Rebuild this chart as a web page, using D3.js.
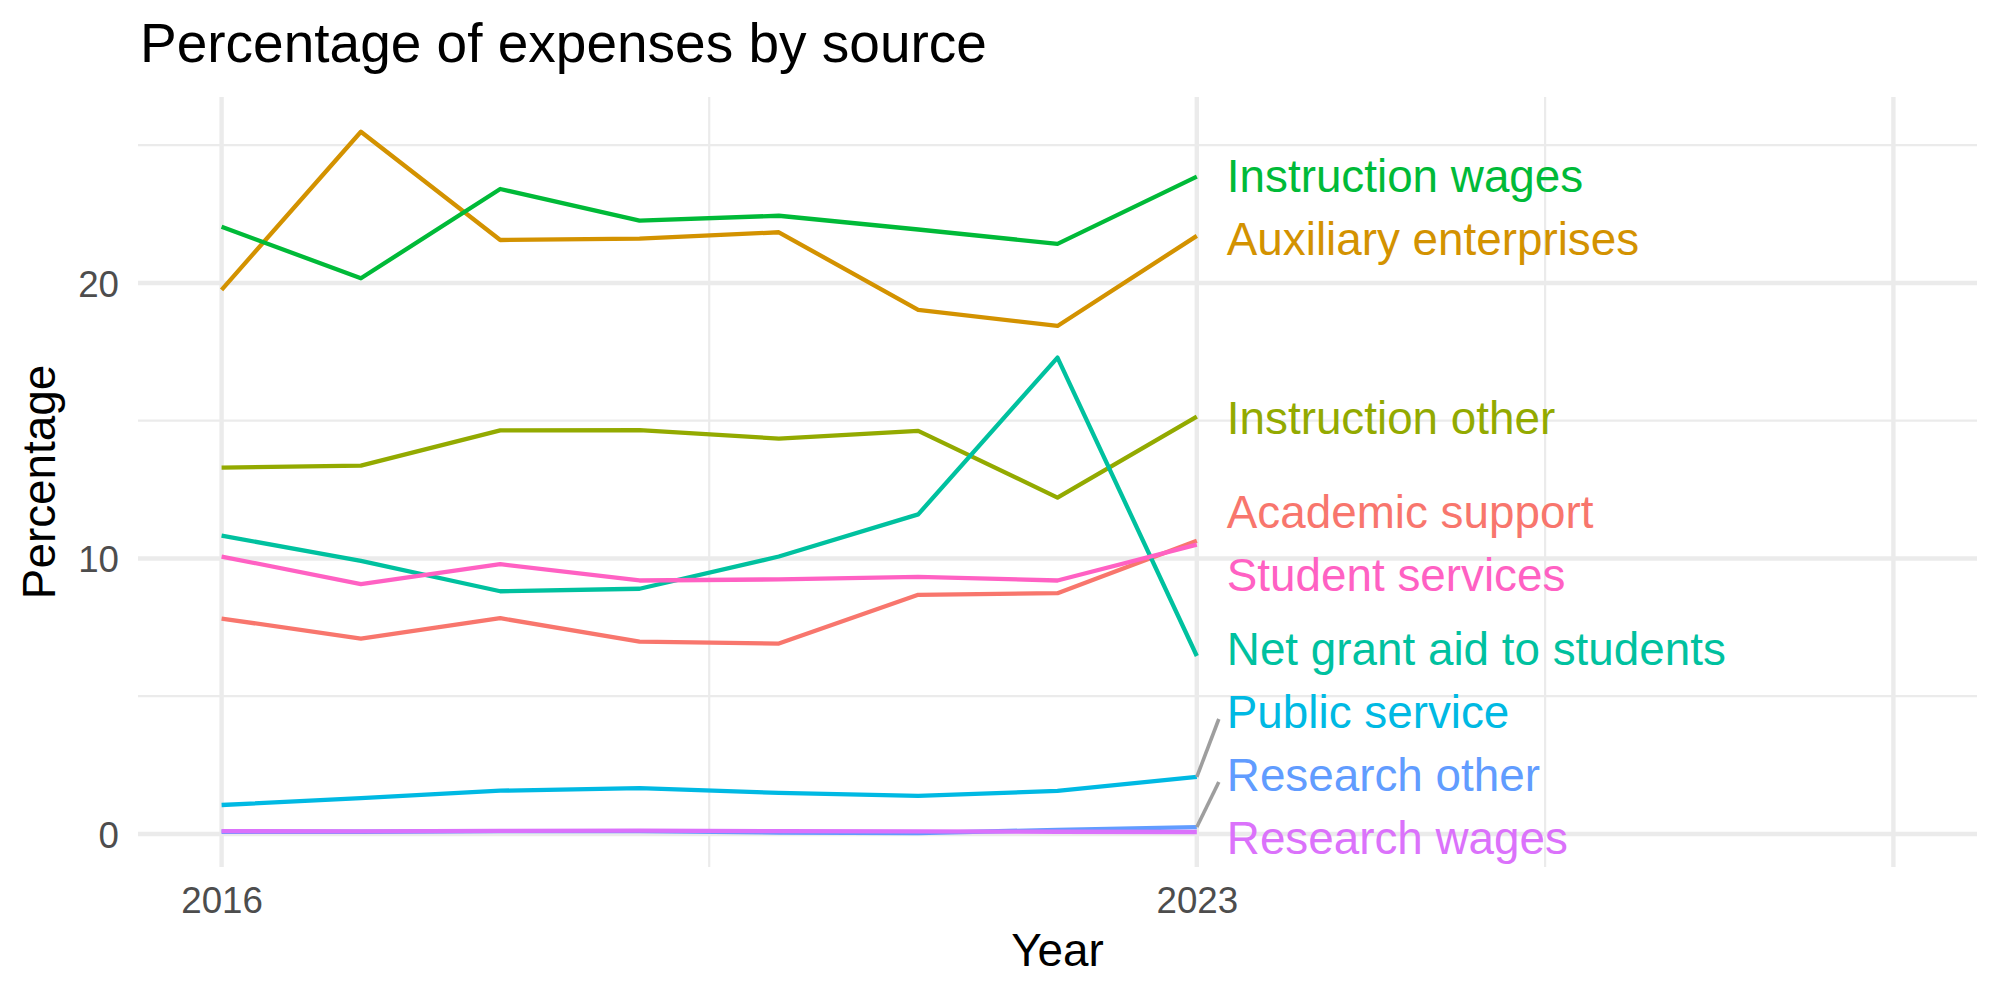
<!DOCTYPE html>
<html>
<head>
<meta charset="utf-8">
<script src="https://cdn.jsdelivr.net/npm/d3@7"></script>
<style>
body{margin:0;background:#fff;}
text{font-family:"Liberation Sans",Arial,Helvetica,sans-serif;}
</style>
</head>
<body>
<svg width="2000" height="1000"></svg>
<script>
// DATA
const years = [2016,2017,2018,2019,2020,2021,2022,2023];

const sources = ['Academic support','Auxiliary enterprises','Instruction other','Instruction wages',
  'Net grant aid to students','Public service','Research other','Research wages','Student services'];

const academicSupport      = [7.82,7.09,7.83,6.98,6.91,8.68,8.74,10.64];
const auxiliaryEnterprises = [19.75,25.49,21.56,21.61,21.84,19.02,18.44,21.71];
const instructionOther     = [13.30,13.37,14.65,14.66,14.35,14.63,12.21,15.15];
const instructionWages     = [22.04,20.17,23.41,22.26,22.44,21.94,21.42,23.86];
const netGrantAid          = [10.83,9.91,8.81,8.90,10.07,11.60,17.29,6.46];
const publicService        = [1.05,1.30,1.57,1.66,1.49,1.38,1.56,2.07];
const researchOther        = [0.08,0.08,0.10,0.10,0.05,0.03,0.15,0.25];
const researchWages        = [0.10,0.09,0.11,0.12,0.10,0.09,0.08,0.07];
const studentServices      = [10.07,9.07,9.79,9.20,9.24,9.33,9.20,10.50];

const seriesValues = [academicSupport,auxiliaryEnterprises,instructionOther,instructionWages,
  netGrantAid,publicService,researchOther,researchWages,studentServices];

const colors = ['#F8766D','#D39200','#93AA00','#00BA38','#00C19F','#00B9E3','#619CFF','#DB72FB','#FF61C3'];

const xLabelTicks = [2016,2023];
const xMajorGrid = [2016,2023,2028];
const xMinorGrid = [2019.5,2025.5];
const yTicks = [0,10,20];
const yMinorGrid = [5,15,25];

const data = sources.map((name,i)=>({
    name: name,
    color: colors[i],
    values: years.map((y,j)=>({year:y, value:seriesValues[i][j]}))
}));

// LAYOUT
const svg = d3.select('svg');
const panel = {left:138, right:1977, top:97, bottom:867};

const xScale = d3.scaleLinear()
    .domain([2015.4, 2028.6])
    .range([panel.left, panel.right]);

const yScale = d3.scaleLinear()
    .domain([-1.2, 26.75])
    .range([panel.bottom, panel.top]);

const grid = svg.append('g');

// minor grid
grid.selectAll('.hminor').data(yMinorGrid).enter().append('line')
    .attr('x1',panel.left).attr('x2',panel.right)
    .attr('y1',d=>yScale(d)).attr('y2',d=>yScale(d))
    .attr('stroke','#EBEBEB').attr('stroke-width',2.2);
grid.selectAll('.vminor').data(xMinorGrid).enter().append('line')
    .attr('y1',panel.top).attr('y2',panel.bottom)
    .attr('x1',d=>xScale(d)).attr('x2',d=>xScale(d))
    .attr('stroke','#EBEBEB').attr('stroke-width',2.2);

// major grid
grid.selectAll('.hmajor').data(yTicks).enter().append('line')
    .attr('x1',panel.left).attr('x2',panel.right)
    .attr('y1',d=>yScale(d)).attr('y2',d=>yScale(d))
    .attr('stroke','#EBEBEB').attr('stroke-width',4.4);
grid.selectAll('.vmajor').data(xMajorGrid).enter().append('line')
    .attr('y1',panel.top).attr('y2',panel.bottom)
    .attr('x1',d=>xScale(d)).attr('x2',d=>xScale(d))
    .attr('stroke','#EBEBEB').attr('stroke-width',4.4);

// axes (labels only)
const gX = svg.append('g')
    .attr('transform',`translate(0,${panel.bottom})`)
    .call(d3.axisBottom(xScale).tickValues(xLabelTicks).tickFormat(d3.format('d')).tickSize(0).tickPadding(46));
const gY = svg.append('g')
    .attr('transform',`translate(${panel.left},0)`)
    .call(d3.axisLeft(yScale).tickValues(yTicks).tickFormat(d3.format('d')).tickSize(0).tickPadding(19));
[gX,gY].forEach(g=>{
    g.select('.domain').remove();
    g.selectAll('text').attr('fill','#4D4D4D').style('font-size','36.7px')
        .style('font-family','"Liberation Sans",Arial,sans-serif');
});
gX.selectAll('text').attr('dy',0);
gY.selectAll('text').attr('dy','0.36em');

// lines
const lineGenerator = d3.line()
    .x(d=>xScale(d.year))
    .y(d=>yScale(d.value));

svg.append('g').selectAll('path')
    .data(data)
    .enter().append('path')
    .attr('d',d=>lineGenerator(d.values))
    .attr('fill','none')
    .attr('stroke',d=>d.color)
    .attr('stroke-width',4.3)
    .attr('stroke-linejoin','round')
    .attr('stroke-linecap','butt');

// end labels, spread apart so they don't overlap
const lastYear = years[years.length-1];
const labelGap = 63;
const labelX = xScale(lastYear) + 30;

const items = data.map(d=>({
    name:d.name, color:d.color,
    target: yScale(d.values[d.values.length-1].value)
})).sort((a,b)=>a.target-b.target);

function spread(items, gap, lo, hi){
    let groups = items.map(d=>({members:[d]}));
    const place = g=>{
        const n = g.members.length;
        let c = d3.mean(g.members, m=>m.target);
        const half = (n-1)*gap/2;
        if (c - half < lo) c = lo + half;
        if (c + half > hi) c = hi - half;
        g.c = c; g.half = half;
    };
    groups.forEach(place);
    let merged = true;
    while (merged){
        merged = false;
        for (let i=1;i<groups.length;i++){
            const a = groups[i-1], b = groups[i];
            if ((b.c - b.half) - (a.c + a.half) < gap){
                a.members = a.members.concat(b.members);
                groups.splice(i,1);
                place(a);
                merged = true;
                break;
            }
        }
    }
    groups.forEach(g=>g.members.forEach((m,k)=>{ m.y = g.c - g.half + k*gap; }));
}
spread(items, labelGap, panel.top + 30, panel.bottom - 30);

const labelG = svg.append('g');
labelG.selectAll('line')
    .data(items.filter(d=>Math.abs(d.y-d.target)>45))
    .enter().append('line')
    .attr('x1',xScale(lastYear)).attr('y1',d=>d.target)
    .attr('x2',labelX-8).attr('y2',d=>d.y+8)
    .attr('stroke','#9E9E9E').attr('stroke-width',3.6);

labelG.selectAll('text')
    .data(items)
    .enter().append('text')
    .attr('x',labelX)
    .attr('y',d=>d.y)
    .attr('dy','0.37em')
    .attr('fill',d=>d.color)
    .style('font-size','45.8px')
    .text(d=>d.name);

// titles
svg.append('text')
    .attr('x',140).attr('y',62)
    .style('font-size','55px')
    .attr('fill','#000')
    .text('Percentage of expenses by source');

svg.append('text')
    .attr('x',(panel.left+panel.right)/2).attr('y',966)
    .attr('text-anchor','middle')
    .style('font-size','45.8px')
    .text('Year');

svg.append('text')
    .attr('transform',`translate(55,${(panel.top+panel.bottom)/2}) rotate(-90)`)
    .attr('text-anchor','middle')
    .style('font-size','45.8px')
    .text('Percentage');
</script>
</body>
</html>
